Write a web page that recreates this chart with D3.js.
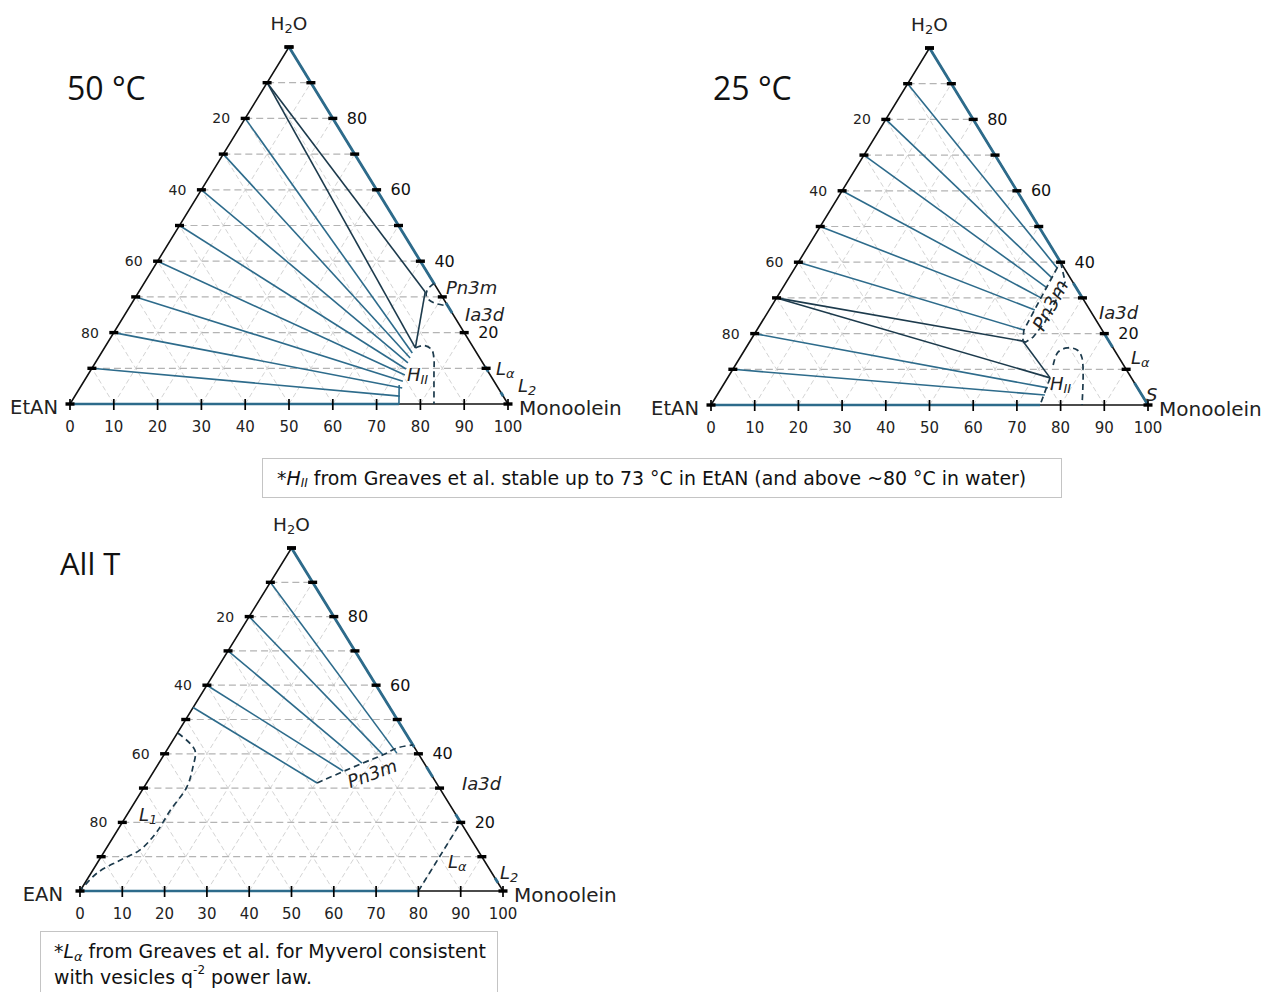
<!DOCTYPE html>
<html><head><meta charset="utf-8">
<script src="https://cdn.jsdelivr.net/npm/d3@7"></script>
<style>body{margin:0;background:#fff;} svg{display:block;}</style>
</head><body>
<script>
// ---------- DATA (ternary: [monoolein %, water %], EtAN = 100 - m - w) ----------
const gridSteps = [10,20,30,40,50,60,70,80,90];
const tickSteps = [0,10,20,30,40,50,60,70,80,90,100];
const bottomTickLabels = [0,10,20,30,40,50,60,70,80,90,100];
const leftTickLabels = [20,40,60,80];   // EtAN %
const rightTickLabels = [80,60,40,20];  // H2O %

// 50 °C
const tie50 = [[0,80,71.0,14.3],[0,70,71.2,12.9],[0,60,71.4,11.5],[0,50,71.8,9.8],
               [0,40,72.4,8.1],[0,30,72.8,6.4],[0,20,73.6,4.5],[0,10,74.2,2.2],[72.5,5.3,75.1,0]];
const dark50 = [[0,90,65.4,31.4],[0,90,71.0,15.7],[65.4,31.4,71.0,15.7]];
const pn3m50 = [[66.2,33.8],[65.6,32.0],[66.4,30.0],[69.0,28.3],[72.5,27.5]];
const hII50 = [[71.0,15.7],[72.6,16.4],[75.0,15.2],[76.8,12.6],[78.6,9.0],[83.1,0]];
const edgeBlue50 = [[100,33.5],[28.3,25.5],[10.6,9.0],[3.3,2.2]];
const base50 = [0,75.1];

// 25 °C
const tie25 = [[0,90,60.0,38.4],[0,80,60.2,35.6],[0,70,60.5,32.8],[0,60,60.5,30.0],
               [0,50,60.8,26.6],[0,40,61.1,21.0],[0,20,74.7,4.8],[0,10,75.0,2.8]];
const dark25 = [[0,30,62.4,17.9],[0,30,73.8,7.6],[62.4,17.9,73.8,7.6]];
const pn3m25L = [[60.0,38.6],[60.5,30.0],[61.1,21.0],[62.4,17.9]];
const pn3m25R = [[60.0,40.0],[63.8,34.5],[64.8,23.2],[64.2,19.0],[63.2,17.6],[62.4,17.9]];
const hII25 = [[72.7,11.2],[72.0,14.8],[73.5,16.0],[76.1,15.4],[78.3,13.2],[84.9,0]];
const hII25L = [[73.8,7.6],[75.3,0]];
const edgeBlue25 = [[100,40],[34.2,30.0],[20.2,16.2],[6.2,0]];
const base25 = [0,75.3];

// All T
const tieAll = [[0,90,54.8,40.2],[0,80,51.8,39.7],[0,70,48.0,37.3],[0,60,44.7,35.0],[0,53.5,40.3,31.5]];
const pn3mAll = [[40.3,31.5],[48.2,37.3],[51.8,39.7],[54.1,41.7],[57.4,42.6]];
const l1All = [[0.2,46.0],[6.6,41.1],[8.6,36.2],[10.1,30.3],[9.6,23.6],[9.5,16.9],[8.2,12.0],[5.0,9.0],[1.4,5.2],[0,0]];
const laAll = [[80,0],[80,20]];
const edgeBlueAll = [[100,42],[36.2,33.2],[22.4,19.5],[3.8,2.4]];
const baseAll = [0,80];

// ---------- STYLE ----------
const BLUE = "#2d6b8b", DARK = "#1c3a4c", DASH = "#1c3a4c";
const svg = d3.select("body").append("svg").attr("width",1269).attr("height",992)
  .style("font-family","'DejaVu Sans', sans-serif");

function drawTri(cfg, d){
  const xs = d3.scaleLinear().domain([0,100]).range([cfg.x0, cfg.x0+cfg.W]);
  const ys = d3.scaleLinear().domain([0,100]).range([cfg.yb, cfg.yb-cfg.H]);
  const P = (m,w) => [xs(m+w/2), ys(w)];
  const g = svg.append("g");
  const seg = (a,b,stroke,sw,dash) => g.append("line")
      .attr("x1",a[0]).attr("y1",a[1]).attr("x2",b[0]).attr("y2",b[1])
      .attr("stroke",stroke).attr("stroke-width",sw).attr("stroke-dasharray",dash||null);
  gridSteps.forEach(k=>{
    seg(P(k,0),P(k,100-k),"#d4d4d4",1,"5,3");
    seg(P(100-k,0),P(0,100-k),"#d4d4d4",1,"5,3");
  });
  gridSteps.forEach(k=> seg(P(0,k),P(100-k,k),"#b4b4b4",1.2,"7,4"));
  g.append("path").attr("d", d3.line()([P(0,0),P(100,0),P(0,100)])+"Z")
    .attr("fill","none").attr("stroke","#111").attr("stroke-width",1.6);
  d.edgeBlue.forEach(([w1,w2])=> seg(P(100-w1,w1),P(100-w2,w2),BLUE,2.8));
  seg(P(d.base[0],0),P(d.base[1],0),BLUE,2.6);
  d.ties.forEach(t=> seg(P(t[0],t[1]),P(t[2],t[3]),BLUE,1.6));
  (d.dark||[]).forEach(t=> seg(P(t[0],t[1]),P(t[2],t[3]),DARK,1.6));
  (d.dashed||[]).forEach(s=>{
    const ln = d3.line().curve(s.smooth? d3.curveCatmullRom : d3.curveLinear);
    g.append("path").attr("d", ln(s.pts.map(p=>P(p[0],p[1]))))
      .attr("fill","none").attr("stroke",DASH).attr("stroke-width",1.7).attr("stroke-dasharray","6,4");
  });
  tickSteps.forEach(k=>{
    const a = P(0,k), b = P(100-k,k), c = P(k,0);
    [a,b].forEach(p=> g.append("rect").attr("x",p[0]-4.5).attr("y",p[1]-1.7)
        .attr("width",9).attr("height",3.4).attr("fill","#000"));
    seg([c[0],c[1]-5],[c[0],c[1]+6],"#000",1.7);
  });
  bottomTickLabels.forEach(k=>{
    const p = P(k,0);
    g.append("text").attr("x",p[0]).attr("y",p[1]+23).attr("text-anchor","middle")
      .attr("dominant-baseline","central").attr("font-size",15).attr("fill","#222").text(k);
  });
  leftTickLabels.forEach(k=>{
    const p = P(0,100-k);
    g.append("text").attr("x",p[0]-15).attr("y",p[1]).attr("text-anchor","end")
      .attr("dominant-baseline","central").attr("font-size",14).attr("fill","#222").text(k);
  });
  rightTickLabels.forEach(k=>{
    const p = P(100-k,k);
    g.append("text").attr("x",p[0]+14).attr("y",p[1]).attr("text-anchor","start")
      .attr("dominant-baseline","central").attr("font-size",16).attr("fill","#111").text(k);
  });
  const top = P(0,100), L = P(0,0), R = P(100,0);
  const h = g.append("text").attr("x",top[0]).attr("y",top[1]-24).attr("text-anchor","middle")
    .attr("dominant-baseline","central").attr("font-size",18.5).attr("fill","#222");
  h.append("tspan").text("H");
  h.append("tspan").attr("font-size",13).attr("dy",5).text("2");
  h.append("tspan").attr("dy",-5).text("O");
  g.append("text").attr("x",L[0]-cfg.lOff).attr("y",L[1]+3).attr("text-anchor","end")
    .attr("dominant-baseline","central").attr("font-size",19.5).attr("fill","#222").text(d.left);
  g.append("text").attr("x",R[0]+11).attr("y",R[1]+4).attr("text-anchor","start")
    .attr("dominant-baseline","central").attr("font-size",20).attr("fill","#222").text("Monoolein");
  svg.append("text").attr("x",cfg.tx).attr("y",cfg.ty).attr("dominant-baseline","central")
    .attr("font-family","'Open Sans', sans-serif").attr("font-size",cfg.ts).attr("fill","#111").text(d.title);
  return g;
}

function phase(x,y,main,sub,opts={}){
  const t = svg.append("text").attr("x",x).attr("y",y).attr("dominant-baseline","central")
    .attr("font-size",opts.size||18).attr("font-style","italic").attr("fill","#222");
  if(opts.rotate) t.attr("transform",`rotate(${opts.rotate},${x},${y})`).attr("text-anchor","middle");
  t.append("tspan").text(main);
  if(sub){ t.append("tspan").attr("font-size",(opts.size||18)*0.72).attr("dy",5).text(sub); }
  return t;
}

drawTri({x0:70,yb:404,W:438,H:357,tx:67,ty:87,ts:32,lOff:12},
  {title:"50 °C",left:"EtAN",ties:tie50,dark:dark50,edgeBlue:edgeBlue50,base:base50,
   dashed:[{pts:pn3m50,smooth:true},{pts:hII50,smooth:true}]});
drawTri({x0:711,yb:405,W:437,H:357,tx:713,ty:87,ts:32,lOff:12},
  {title:"25 °C",left:"EtAN",ties:tie25,dark:dark25,edgeBlue:edgeBlue25,base:base25,
   dashed:[{pts:pn3m25L},{pts:pn3m25R},{pts:hII25,smooth:true},{pts:hII25L}]});
drawTri({x0:80,yb:891,W:423,H:343,tx:60,ty:563,ts:31,lOff:17},
  {title:"All T",left:"EAN",ties:tieAll,edgeBlue:edgeBlueAll,base:baseAll,
   dashed:[{pts:pn3mAll,smooth:true},{pts:l1All,smooth:true},{pts:laAll}]});

// phase labels 50 °C
phase(446,287,"Pn3m");
phase(465,314,"Ia3d");
phase(496,368,"L","α");
phase(518,385,"L","2");
phase(407,374,"H","II");
// 25 °C
phase(1050,305,"Pn3m",null,{rotate:-62,size:19});
phase(1099,312,"Ia3d");
phase(1131,357,"L","α");
phase(1146,394,"S");
phase(1050,383,"H","II");
// All T
phase(372,773,"Pn3m",null,{rotate:-20});
phase(462,783,"Ia3d");
phase(448,861,"L","α");
phase(500,872,"L","2");
phase(139,814,"L","1");

// notes
const NOTE = 18.9;
svg.append("rect").attr("x",262.5).attr("y",458.5).attr("width",799).attr("height",39)
  .attr("fill","#fff").attr("stroke","#c4c4c4");
const n1 = svg.append("text").attr("x",277).attr("y",478).attr("dominant-baseline","central")
  .attr("font-family","'DejaVu Sans', sans-serif").attr("font-size",NOTE).attr("fill","#111");
n1.append("tspan").text("*");
n1.append("tspan").attr("font-style","italic").text("H");
n1.append("tspan").attr("font-style","italic").attr("font-size",12).attr("dy",5).text("II");
n1.append("tspan").attr("dy",-5).text(" from Greaves et al. stable up to 73 °C in EtAN (and above ~80 °C in water)");

svg.append("rect").attr("x",40.5).attr("y",931.5).attr("width",457).attr("height",70)
  .attr("fill","#fff").attr("stroke","#c4c4c4");
const n2 = svg.append("text").attr("x",54).attr("y",951).attr("dominant-baseline","central")
  .attr("font-family","'DejaVu Sans', sans-serif").attr("font-size",NOTE).attr("fill","#111");
n2.append("tspan").text("*");
n2.append("tspan").attr("font-style","italic").text("L");
n2.append("tspan").attr("font-style","italic").attr("font-size",13).attr("dy",5).text("α");
n2.append("tspan").attr("dy",-5).text(" from Greaves et al. for Myverol consistent");
const n3 = svg.append("text").attr("x",54).attr("y",977).attr("dominant-baseline","central")
  .attr("font-family","'DejaVu Sans', sans-serif").attr("font-size",NOTE).attr("fill","#111");
n3.append("tspan").text("with vesicles q");
n3.append("tspan").attr("font-size",12).attr("dy",-7).text("-2");
n3.append("tspan").attr("dy",7).text(" power law.");
</script>
</body></html>
